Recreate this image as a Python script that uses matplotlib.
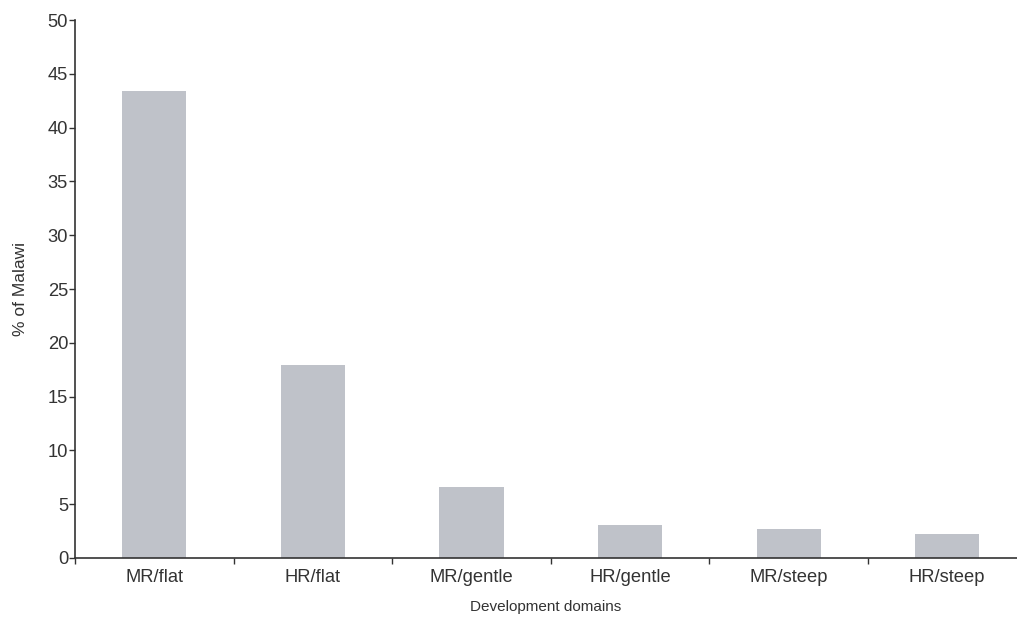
import matplotlib.pyplot as plt
import numpy as np

categories = ['MR/flat', 'HR/flat', 'MR/gentle', 'HR/gentle', 'MR/steep', 'HR/steep']
values = [43.4, 17.9, 6.6, 3.1, 2.7, 2.2]

plt.rcParams['font.family'] = ['Liberation Sans', 'DejaVu Sans']

fig = plt.figure(figsize=(10.17, 6.18), dpi=100)
ax = fig.add_axes([0.0737, 0.0971, 0.9263, 0.8705])

x = np.arange(len(categories))
ax.bar(x, values, width=0.405, color='#bfc2c9')

ax.set_xlim(-0.5, 5.44)
ax.set_ylim(0, 50)
ax.set_yticks(range(0, 51, 5))
ax.set_xticks(x)
ax.set_xticklabels(categories)
ax.set_xticks(np.arange(-0.5, 5.5, 1), minor=True)

for s in ['top', 'right']:
    ax.spines[s].set_visible(False)
for s in ['left', 'bottom']:
    ax.spines[s].set_color('#333333')
    ax.spines[s].set_linewidth(1.2)

ax.tick_params(axis='x', which='major', length=0, pad=8, labelsize=13.2, colors='#333333')
ax.tick_params(axis='x', which='minor', length=4, width=1, colors='#333333')
ax.tick_params(axis='y', length=4, width=1, pad=1, labelsize=13.2, colors='#333333')

ax.set_xlabel('Development domains', fontsize=11, color='#333333', labelpad=10)
ax.set_ylabel('% of Malawi', fontsize=12.5, color='#333333', labelpad=14)

fig.savefig('out.png', dpi=100)
